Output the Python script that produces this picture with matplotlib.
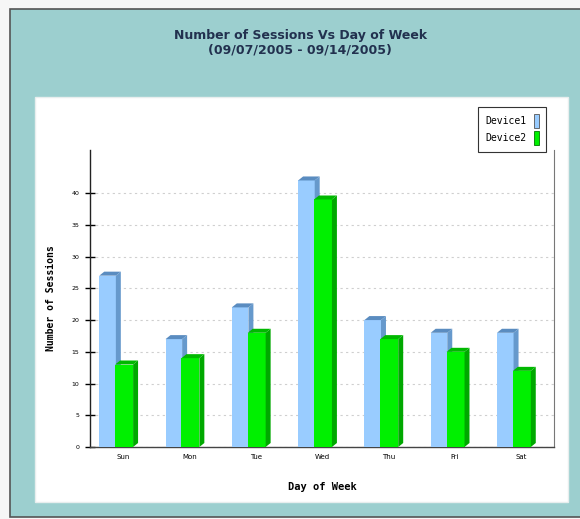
import matplotlib
matplotlib.use("Agg")
import matplotlib.pyplot as plt
from matplotlib.patches import Polygon, Rectangle, Patch

days = ["Sun", "Mon", "Tue", "Wed", "Thu", "Fri", "Sat"]
device1 = [27, 17, 22, 42, 20, 18, 18]
device2 = [13, 14, 18, 39, 17, 15, 12]
series_names = ["Device1", "Device2"]
yticks = [0, 5, 10, 15, 20, 25, 30, 35, 40]

TEAL = "#9ccfcf"
BLUE = ("#99ccff", "#6699cc", "#5a8cc0")    # front, side, top
GREEN = ("#00f000", "#00a800", "#00b800")
W, H = 580, 519

fig = plt.figure(figsize=(W / 100, H / 100), dpi=100)
fig.patch.set_facecolor("#f6f6f6")


def fx(px):
    return px / W


def fy(py):
    return 1 - py / H


# outer teal frame and white chart panel
fig.add_artist(Rectangle((fx(10), fy(517)), fx(575), 508 / H, transform=fig.transFigure,
                         facecolor=TEAL, edgecolor="#555555", lw=1.2, zorder=0))
fig.add_artist(Rectangle((fx(35), fy(502)), fx(533), 405 / H, transform=fig.transFigure,
                         facecolor="white", edgecolor="#e8eeee", lw=1, zorder=0))

fig.text(fx(301), fy(36), "Number of Sessions Vs Day of Week", ha="center", va="center",
         fontsize=9, fontweight="bold", color="#22314f")
fig.text(fx(300), fy(50), "(09/07/2005 - 09/14/2005)", ha="center", va="center",
         fontsize=9, fontweight="bold", color="#22314f")

ax = fig.add_axes([fx(90), fy(447), fx(554 - 90), (447 - 150) / H])
ax.set_facecolor("none")
ax.set_xlim(0, len(days))
ax.set_ylim(0, 46.8)

# depth of the 3D effect in data units
dx, dy = 0.075, 0.63


def bars3d(offset, vals, colors, z, width):
    xs = [i + 0.5 + offset for i in range(len(vals))]
    ax.bar(xs, vals, width=width, align="edge", color=colors[0], edgecolor="none", zorder=z)
    for x, v in zip(xs, vals):
        side = [(x + width, 0), (x + width + dx, dy), (x + width + dx, v + dy), (x + width, v)]
        top = [(x, v), (x + dx, v + dy), (x + width + dx, v + dy), (x + width, v)]
        ax.add_patch(Polygon(side, closed=True, facecolor=colors[1], edgecolor="none", zorder=z))
        ax.add_patch(Polygon(top, closed=True, facecolor=colors[2], edgecolor="none", zorder=z))


bars3d(-0.36, device1, BLUE, 3, 0.25)
bars3d(-0.12, device2, GREEN, 4, 0.27)

ax.set_yticks(yticks)
ax.set_yticklabels([str(t) for t in yticks])
ax.set_xticks([i + 0.5 for i in range(len(days))])
ax.set_xticklabels(days)
ax.tick_params(axis="y", direction="inout", length=7, width=1, labelsize=4.5, pad=4)
ax.tick_params(axis="x", length=0, labelsize=5, pad=5)
ax.yaxis.grid(True, linestyle=(0, (2, 3)), color="#cfcfcf", lw=0.8)
ax.set_axisbelow(True)

ax.spines["top"].set_visible(False)
ax.spines["left"].set_color("#222222")
ax.spines["bottom"].set_color("#444444")
ax.spines["right"].set_color("#777777")
ax.spines["left"].set_linewidth(1)
ax.spines["bottom"].set_linewidth(1)

ax.set_xlabel("Day of Week", fontsize=7.5, fontweight="bold", family="DejaVu Sans Mono",
              labelpad=16)
ax.set_ylabel("Number of Sessions", fontsize=7, fontweight="bold", family="DejaVu Sans Mono",
              labelpad=11)

handles = [Patch(facecolor=BLUE[0], edgecolor="#555555", lw=0.6),
           Patch(facecolor=GREEN[0], edgecolor="#007700", lw=0.6)]
leg = ax.legend(handles, series_names, loc="upper right", bbox_to_anchor=(fx(551), fy(102)),
                bbox_transform=fig.transFigure, markerfirst=False, handlelength=0.55,
                handleheight=1.8, handletextpad=0.7, borderpad=0.75, labelspacing=0.3,
                fancybox=False, framealpha=1, edgecolor="#333333",
                prop={"family": "DejaVu Sans Mono", "size": 7})
leg.get_frame().set_linewidth(0.8)

fig.savefig("out.png", dpi=100, facecolor=fig.get_facecolor())
